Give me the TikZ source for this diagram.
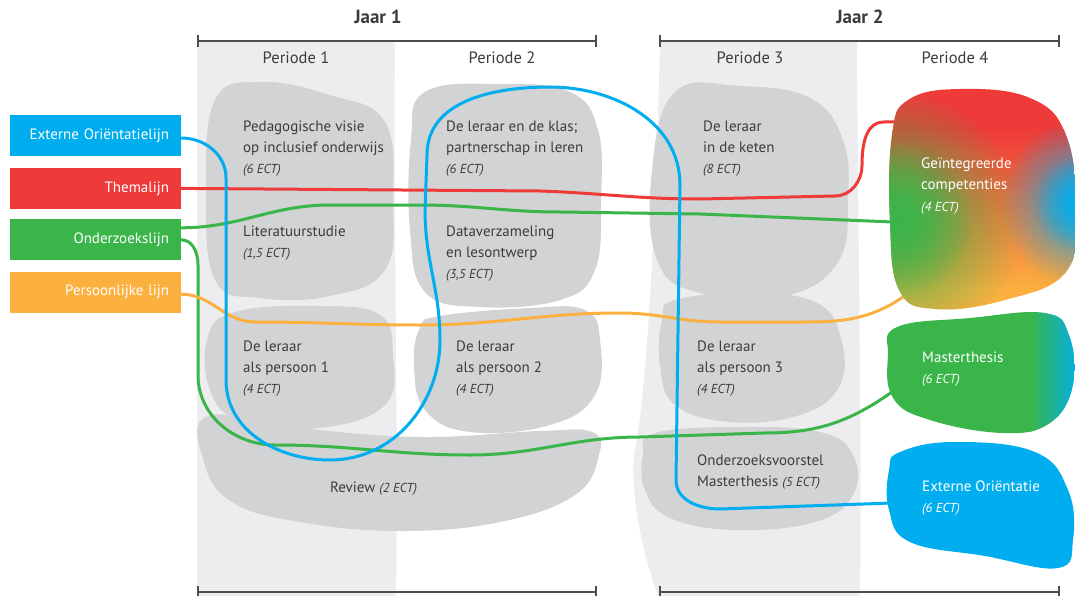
\documentclass[tikz,border=0pt]{standalone}
\usepackage{fontspec}
\setmainfont{PT Sans}
\usetikzlibrary{positioning, fadings}

\definecolor{lijnblauw}{HTML}{00AEEF}
\definecolor{lijnrood}{HTML}{EE3B39}
\definecolor{lijngroen}{HTML}{3AB54A}
\definecolor{lijnoranje}{HTML}{FBB040}
\definecolor{blobgrijs}{HTML}{D1D3D4}
\definecolor{kolomgrijs}{HTML}{EDEDEF}
\definecolor{tekstgrijs}{HTML}{3C3C3C}
\definecolor{balkgrijs}{HTML}{4D4D4D}

\tikzfading[name=vervaag, inner color=transparent!0, outer color=transparent!100]

\newcommand{\ectlabel}[1]{{\itshape\fontsize{13}{21}\selectfont(#1 ECT)}}

\begin{document}
\begin{tikzpicture}[x=1pt, y=-1pt,
                blob/.style={fill=blobgrijs},
                lijn/.style={line width=3pt, line cap=round},
                lijnlabel/.style={minimum width=171pt, minimum height=41pt, inner xsep=12pt,
                                  text width=147pt, align=right, text=white,
                                  font=\fontsize{15}{17}\selectfont},
                bloktekst/.style={anchor=base west, align=left, inner sep=0pt, text=tekstgrijs,
                                  font=\fontsize{15}{21}\selectfont},
                wittekst/.style={bloktekst, text=white},
                periode/.style={anchor=base, inner sep=0pt, text=tekstgrijs,
                                font=\fontsize{16.5}{18}\selectfont},
                jaar/.style={anchor=base, inner sep=0pt, text=tekstgrijs,
                             font=\fontsize{19}{22}\selectfont\bfseries},
                balk/.style={draw=balkgrijs, line width=1.3pt}]

                \useasboundingbox (0,0) rectangle (1075,596);

                % period columns in the background
                \fill[kolomgrijs] (197,41) -- (395,41) .. controls (393,250) and (399,420) .. (396,596)
                    -- (197,596) -- cycle;
                \fill[kolomgrijs] (660,41) -- (857,41) .. controls (858,250) and (862,420) .. (860,596)
                    -- (658,596) .. controls (645,560) and (630,500) .. (634,455)
                    .. controls (642,420) and (654,300) .. cycle;

                % year bars
                \node[jaar] (jaar1) at (378,24) {Jaar 1};
                \node[jaar] (jaar2) at (860,24) {Jaar 2};
                \foreach \ya in {41, 592} {
                    \draw[balk] (198,\ya) -- (596,\ya);
                    \draw[balk] (660,\ya) -- (1059,\ya);
                    \foreach \xa in {198, 596, 660, 1059}
                        \draw[balk] (\xa,\ya-6) -- (\xa,\ya+6);
                }
                \node[periode] (per1) at (296,64) {Periode 1};
                \node[periode] (per2) at (502,64) {Periode 2};
                \node[periode] (per3) at (750,64) {Periode 3};
                \node[periode] (per4) at (955,64) {Periode 4};

                % grey course blobs
                \fill[blob] plot[smooth cycle, tension=0.7] coordinates {(215,100) (260,82) (330,95) (385,122)
                    (393,200) (385,270) (330,296) (260,298) (215,280) (206,190)};
                \fill[blob] plot[smooth cycle, tension=0.7] coordinates {(425,92) (500,84) (570,92) (598,130)
                    (601,200) (595,270) (560,300) (480,307) (425,292) (410,230) (411,140)};
                \fill[blob] plot[smooth cycle, tension=0.7] coordinates {(675,92) (740,86) (810,98) (843,140)
                    (848,200) (838,262) (785,296) (700,293) (657,260) (652,170)};
                \fill[blob] plot[smooth cycle, tension=0.7] coordinates {(235,312) (320,306) (380,315) (393,355)
                    (385,405) (320,428) (245,422) (212,395) (207,340)};
                \fill[blob] plot[smooth cycle, tension=0.7] coordinates {(440,316) (530,308) (585,310) (600,340)
                    (595,395) (550,425) (470,432) (425,410) (414,365) (420,328)};
                \fill[blob] plot[smooth cycle, tension=0.7] coordinates {(208,416) (300,428) (420,437) (540,431)
                    (592,432) (599,455) (575,495) (500,522) (400,531) (300,522) (232,502) (204,462)};
                \fill[blob] plot[smooth cycle, tension=0.7] coordinates {(675,300) (750,293) (815,302) (840,335)
                    (840,385) (800,415) (730,422) (675,405) (660,365) (662,320)};
                \fill[blob] plot[smooth cycle, tension=0.7] coordinates {(655,433) (740,427) (820,432) (853,455)
                    (853,495) (815,522) (735,530) (670,518) (645,490) (643,455)};

                % learning lines on the left
                \node[lijnlabel, fill=lijnblauw] (extlijn) at (95.5,136) {Externe Oriëntatielijn};
                \node[lijnlabel, fill=lijnrood, below=11pt of extlijn] (themalijn) {Themalijn};
                \node[lijnlabel, fill=lijngroen, below=10pt of themalijn] (onderzoekslijn) {Onderzoekslijn};
                \node[lijnlabel, fill=lijnoranje, below=11pt of onderzoekslijn] (persoonlijk) {Persoonlijke lijn};

                % end points on the blobs of periode 4
                \coordinate (gicRood) at (898,122);
                \coordinate (gicGroen) at (893,222);
                \coordinate (gicOranje) at (906,295);
                \coordinate (mtIn) at (892,392);
                \coordinate (eoIn) at (892,503);

                % lines through the programme
                \draw[lijn, lijnrood] (themalijn.east) -- (540,191) to[out=-2,in=180] (700,199) -- (835,196)
                    to[out=0,in=-90] (862,165) to[out=90,in=180] (884,122) -- (gicRood);
                \draw[lijn, lijngroen] ([yshift=12pt]onderzoekslijn.east) to[out=0,in=180] (330,205) -- (420,205)
                    to[out=0,in=180] (560,212) -- (700,214) -- (gicGroen);
                \draw[lijn, lijngroen] (onderzoekslijn.east) to[out=0,in=90] (198,265) -- (198,375)
                    to[out=-90,in=180] (275,445) to[out=0,in=180] (470,455) to[out=0,in=180] (640,437)
                    -- (765,433) to[out=0,in=215] (mtIn);
                \draw[lijn, lijnoranje] ([yshift=-2pt]persoonlijk.east) to[out=0,in=180] (255,322)
                    to[out=0,in=180] (420,325) to[out=0,in=180] (620,313) to[out=0,in=180] (720,322)
                    -- (805,322) to[out=0,in=215] (gicOranje);
                \draw[lijn, lijnblauw] ([yshift=-2pt]extlijn.east) to[out=0,in=90] (226,178) -- (226,380)
                    to[out=-90,in=180] (330,460) to[out=0,in=-90] (440,340) to[out=90,in=-90] (425,210)
                    -- (427,155) to[out=90,in=180] (550,87) to[out=0,in=90] (680,185) -- (676,480)
                    to[out=-90,in=180] (720,509) -- (eoIn);

                % coloured blobs of periode 4
                \def\gicvorm{plot[smooth cycle, tension=0.7] coordinates {(908,100) (960,89) (1030,98)
                    (1066,135) (1076,210) (1066,272) (1005,300) (935,309) (899,290) (890,220) (892,135)}}
                \def\mtvorm{plot[smooth cycle, tension=0.7] coordinates {(897,327) (970,318) (1045,313)
                    (1069,335) (1073,385) (1050,423) (1003,433) (930,420) (893,398) (888,355)}}
                \begin{scope}
                    \clip \gicvorm;
                    \fill[lijnrood] (885,85) rectangle (1080,135);
                    \shade[top color=lijnrood, bottom color=lijnoranje] (885,130) rectangle (1080,290);
                    \fill[lijnoranje] (885,289) rectangle (1080,315);
                    \fill[lijngroen, path fading=vervaag] (893,220) circle (130pt);
                    \fill[lijngroen, path fading=vervaag] (893,220) circle (80pt);
                    \fill[lijnblauw, path fading=vervaag] (1084,203) circle (85pt);
                    \fill[lijnblauw, path fading=vervaag] (1084,203) circle (50pt);
                \end{scope}
                \begin{scope}
                    \clip \mtvorm;
                    \fill[lijngroen] (880,305) rectangle (1032,440);
                    \shade[left color=lijngroen, right color=lijnblauw] (1030,305) rectangle (1080,440);
                \end{scope}
                \fill[lijnblauw] plot[smooth cycle, tension=0.7] coordinates {(900,452) (955,442) (1035,452)
                    (1068,490) (1073,540) (1058,568) (985,556) (910,542) (889,510) (889,470)};

                % course texts (base = last line)
                \node[bloktekst] (ped) at (243,174) {Pedagogische visie\\op inclusief onderwijs\\\ectlabel{6}};
                \node[bloktekst] (lit) at (243,257) {Literatuurstudie\\\ectlabel{1,5}};
                \node[bloktekst] (klas) at (446,174) {De leraar en de klas;\\partnerschap in leren\\\ectlabel{6}};
                \node[bloktekst] (data) at (446,278) {Dataverzameling\\en lesontwerp\\\ectlabel{3,5}};
                \node[bloktekst] (keten) at (703,174) {De leraar\\in de keten\\\ectlabel{8}};
                \node[bloktekst] (pers1) at (243,393) {De leraar\\als persoon 1\\\ectlabel{4}};
                \node[bloktekst] (pers2) at (456,393) {De leraar\\als persoon 2\\\ectlabel{4}};
                \node[bloktekst] (pers3) at (697,393) {De leraar\\als persoon 3\\\ectlabel{4}};
                \node[bloktekst] (review) at (330,492) {Review \ectlabel{2}};
                \node[bloktekst] (voorstel) at (697,486) {Onderzoeksvoorstel\\Masterthesis \ectlabel{5}};
                \node[wittekst] (gic) at (921,211) {Geïntegreerde\\competenties\\\ectlabel{4}};
                \node[wittekst] (mt) at (922,383) {Masterthesis\\\ectlabel{6}};
                \node[wittekst] (eo) at (922,512) {Externe Oriëntatie\\\ectlabel{6}};
            \end{tikzpicture}
\end{document}
